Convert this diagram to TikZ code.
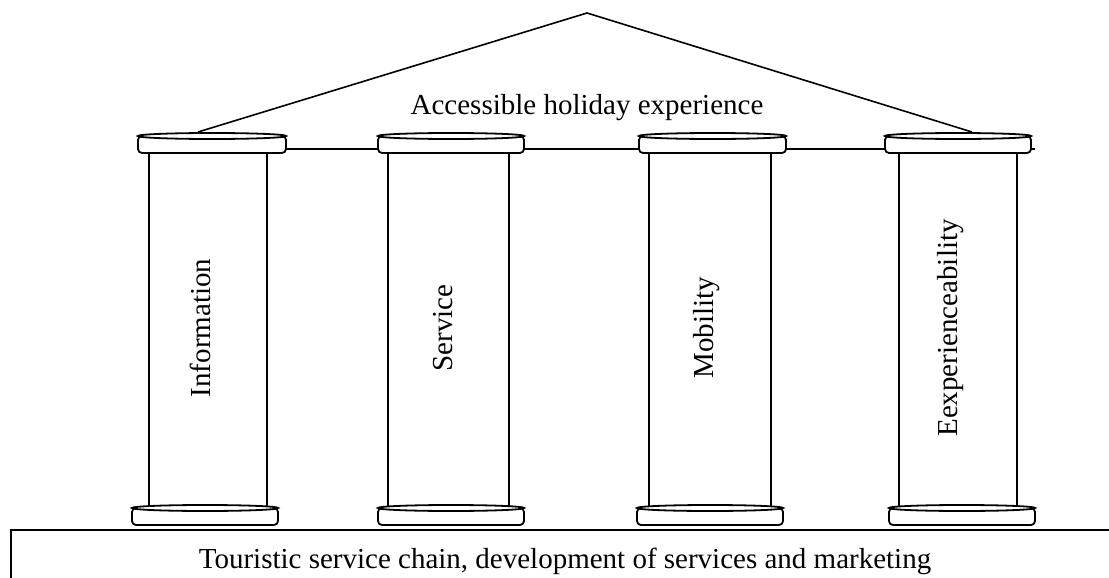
\documentclass[tikz,border=0pt]{standalone}
\usepackage{fontspec}
\setmainfont{Liberation Serif}
\usetikzlibrary{calc}
\tikzset{
	disc/.style={fill=white, draw, line width=0.9pt},
	shaft/.style={line width=0.6pt},
	pillarname/.style={rotate=90, font=\fontsize{14.5}{17}\selectfont, inner sep=0pt},
	bigtext/.style={font=\fontsize{14.5}{17}\selectfont, inner sep=0pt}
}
\newcommand{\pillardisc}[3]{%
	\filldraw[disc, rounded corners=2pt] (#1,#3+3) rectangle (#2,#3+20);
	\filldraw[disc] ({(#1+#2)/2},#3+3) ellipse [x radius={(#2-#1)/2}, y radius=3];
}

\begin{document}
\begin{tikzpicture}[x=0.5pt, y=-0.5pt]
	\useasboundingbox (0,0) rectangle (1109,578);
	\coordinate (apex) at (587,13);
	\coordinate (roof-l) at (198,132);
	\coordinate (roof-r) at (972,132);
	\coordinate (beam-l) at (286,149);
	\coordinate (beam-r) at (1035,149);
	\draw[line width=0.8pt] (roof-l) -- (apex) -- (roof-r);
	\draw[line width=0.6pt] (beam-l) -- (beam-r);
	\node[bigtext, anchor=base] (roof-text) at (587,114) {Accessible holiday experience};
	\foreach \capl/\capr/\shl/\shr/\basl/\basr/\word/\wx [count=\i] in {
		138/286/149/267/132/278/Information/200,
		378/524/388/509/378/524/Service/443,
		639/786/649/771/637/783/Mobility/707,
		885/1031/899/1017/889/1035/Eexperienceability/951}{
		\draw[shaft] (\shl,150) -- (\shl,506) (\shr,150) -- (\shr,506);
		\pillardisc{\capl}{\capr}{133}
		\pillardisc{\basl}{\basr}{505}
		\node[pillarname] (name-\i) at (\wx,328) {\word};
	}
	\coordinate (ground-l) at (11,578);
	\coordinate (ground-c) at (11,530);
	\coordinate (ground-r) at (1109,530);
	\draw[line width=0.8pt] (ground-l) -- (ground-c) -- (ground-r);
	\node[bigtext, anchor=base] (ground-text) at (565,568) {Touristic service chain, development of services and marketing};
\end{tikzpicture}
\end{document}
